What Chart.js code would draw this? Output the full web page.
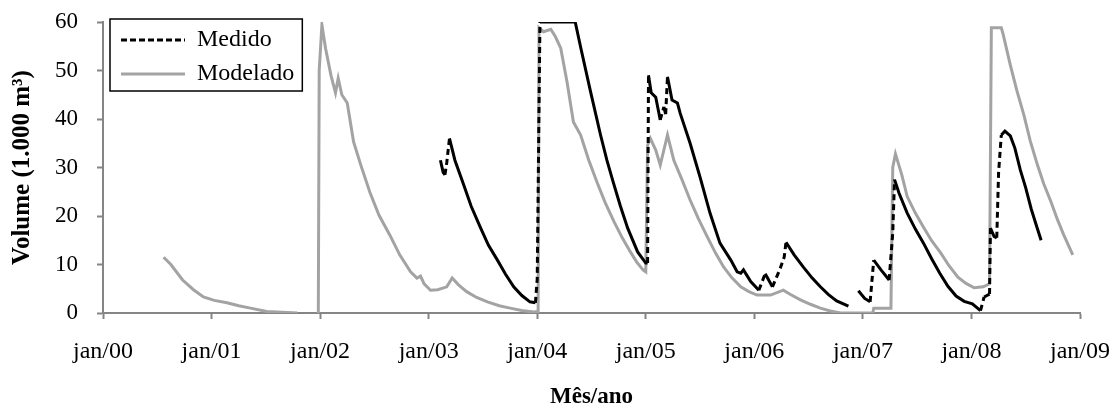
<!DOCTYPE html>
<html>
<head>
<meta charset="utf-8">
<script src="https://cdn.jsdelivr.net/npm/chart.js@4"></script>
<style>
  body { margin: 0; background: #fff; }
  #wrap { width: 1113px; height: 411px; position: relative; }
</style>
</head>
<body>
<div id="wrap"><canvas id="volChart"></canvas></div>
<script>
// x = months since jan/2000, y = volume (1.000 m3)
var xTickLabels = ['jan/00', 'jan/01', 'jan/02', 'jan/03', 'jan/04',
                   'jan/05', 'jan/06', 'jan/07', 'jan/08', 'jan/09'];
var yTicks = [0, 10, 20, 30, 40, 50, 60];

// Modelado (grey)
var modMonths = [6.7, 7.5, 8.8, 10.0, 11.1, 12.3, 13.7, 15.0, 16.3, 18.1, 21.5, 22.5,
  23.8, 23.9, 24.2, 24.6, 25.2, 25.7, 26.0, 26.4, 27.0, 27.7, 28.5, 29.5, 30.5, 31.7,
  32.8, 34.0, 34.7, 35.1, 35.5, 36.2, 37.0, 38.0, 38.6, 39.3, 40.2, 41.3, 42.5, 43.8,
  45.0, 46.3, 47.6, 48.1, 48.2, 48.7, 49.5, 50.0, 50.6, 51.3, 52.0, 52.8, 53.7, 54.6,
  55.5, 56.5, 57.4, 58.3, 59.0, 59.7, 60.0, 60.2, 60.5, 61.1, 61.6, 62.4, 63.1, 64.0,
  64.9, 65.8, 66.8, 67.7, 68.6, 69.5, 70.5, 71.4, 72.3, 73.8, 75.2, 76.0, 77.1, 78.2,
  79.3, 80.4, 81.5, 85.1, 85.2, 87.1, 87.3, 87.6, 88.3, 88.9, 89.8, 90.7, 91.6, 92.6,
  93.5, 94.5, 95.4, 96.3, 97.3, 98.0, 98.2, 99.3, 99.5, 100.3, 101.0, 101.8, 102.5,
  103.3, 104.0, 104.8, 105.5, 106.2, 107.2];
var modVolume = [11.5, 10.0, 6.8, 4.8, 3.3, 2.6, 2.1, 1.5, 1.0, 0.3, 0.0, null,
  0, 50, 59.4, 54.6, 49, 45.4, 48.4, 45, 43.3, 35.3, 30.5, 24.9, 20.2, 16.1,
  12, 8.5, 7.2, 7.6, 6, 4.7, 4.8, 5.4, 7.2, 5.8, 4.4, 3.2, 2.3, 1.5,
  1.0, 0.5, 0.2, 0.3, 58.8, 58.0, 58.5, 57, 54.6, 47.6, 39.4, 36.7, 31.5, 27,
  22.8, 18.8, 15.5, 12.6, 10.5, 8.9, 8.5, 34.6, 36, 33.6, 30.5, 36.7, 31.5, 27.5,
  23.3, 19.5, 15.7, 12.4, 9.5, 7.3, 5.4, 4.4, 3.7, 3.7, 4.7, 3.8, 2.7, 1.8,
  1.0, 0.4, 0, 0, 1.0, 1.0, 30, 32.8, 28.5, 24, 20.6, 17.7, 14.9, 12.4,
  9.8, 7.4, 6.1, 5.2, 5.4, 6, 58.8, 58.8, 57.5, 51.1, 46, 40.8, 35.5,
  30.5, 26.6, 22.9, 19.3, 16.1, 12];

// Medido (black)
var medMonths = [37.3, 37.6, 37.8, 38.0, 38.3, 38.9, 39.8, 40.7, 41.7, 42.6, 43.6, 44.5,
  45.4, 46.3, 47.2, 47.8, 48.0, 48.3, 52.2, 52.8, 53.9, 55.0, 55.7, 56.4, 57.2, 58.0,
  59.1, 60.0, 60.2, 60.3, 60.6, 61.1, 61.6, 62.0, 62.2, 62.4, 62.9, 63.5, 63.8, 64.9,
  66.0, 67.1, 68.2, 69.4, 70.1, 70.5, 70.8, 71.6, 72.5, 73.2, 74.0, 74.8, 75.3, 75.5,
  76.4, 77.4, 78.4, 79.3, 80.2, 81.1, 82.4, 83.0, 83.5, 84.2, 84.8, 85.2, 86.0, 86.9,
  87.3, 87.5, 88.0, 88.9, 89.8, 90.7, 91.6, 92.5, 93.4, 94.3, 95.2, 96.1, 97.0, 97.4,
  98.0, 98.1, 98.5, 98.8, 99.0, 99.3, 99.7, 100.3, 100.8, 101.4, 102.0, 102.6, 103.1,
  103.7];
var medVolume = [31.5, 29, 28.5, 31, 36, 31.5, 26.8, 22, 17.7, 14, 10.9, 8,
  5.4, 3.6, 2.3, 2.1, 7, 60, 60, 54.8, 45.6, 36.7, 31.5, 27, 22, 17.5,
  12.6, 10.3, 10.3, 49, 45.4, 44.5, 39.8, 42.5, 41, 48.7, 43.9, 43.3, 41.2, 35,
  28, 20.6, 14.4, 10.9, 8.5, 8.2, 8.9, 6.5, 4.7, 8.1, 5.4, 8.9, 11.5, 14.6,
  12, 9.5, 7.2, 5.4, 3.8, 2.5, 1.4, null, 4.6, 3.0, 2.3, 10.9, 8.9, 6.8,
  16.5, 27.5, 24.7, 20.6, 17.3, 14.4, 11.2, 8.2, 5.5, 3.5, 2.4, 1.9, 0.5, 3.3,
  3.9, 17.5, 15.8, 15.5, 29, 36.7, 37.5, 36.5, 34, 29.5, 25.8, 21.5, 18.5,
  15];

function toPoints(xs, ys) {
  return xs.map(function(x, i) { return { x: x, y: ys[i] }; });
}

var axisGrey = '#858585';
var modGrey  = '#a3a3a3';
var serif    = "'Liberation Serif', 'Times New Roman', serif";

// move the legend into the upper left corner and put a frame round it
var legendFrame = {
  id: 'legendFrame',
  afterUpdate: function(chart) {
    var lg = chart.legend;
    if (!lg) return;
    var dx = 8, dy = 18;
    lg.top += dy; lg.bottom += dy;
    lg.left += dx; lg.right += dx;
    (lg.legendHitBoxes || []).forEach(function(b) { b.left += dx; b.top += dy; });
  },
  afterDraw: function(chart) {
    var hb = chart.legend && chart.legend.legendHitBoxes;
    if (!hb || !hb.length) return;
    var minX = Math.min.apply(null, hb.map(function(b) { return b.left; }));
    var maxX = Math.max.apply(null, hb.map(function(b) { return b.left + b.width; }));
    var minY = hb[0].top;
    var maxY = hb[hb.length - 1].top + hb[hb.length - 1].height;
    var ctx = chart.ctx;
    ctx.save();
    ctx.strokeStyle = '#000';
    ctx.lineWidth = 1.5;
    ctx.strokeRect(minX - 11, minY - 9, (maxX - minX) + 19, (maxY - minY) + 14);
    ctx.restore();
  }
};

new Chart(document.getElementById('volChart'), {
  type: 'line',
  data: {
    datasets: [{
      label: 'Medido',
      data: toPoints(medMonths, medVolume),
      borderColor: '#000',
      borderWidth: 3,
      pointRadius: 0,
      tension: 0,
      spanGaps: false,
      // rises (filling events) are drawn dashed, as in the original
      segment: {
        borderDash: function(ctx) {
          return ctx.p1.parsed.y - ctx.p0.parsed.y > 2 ? [6, 4] : undefined;
        }
      }
    }, {
      label: 'Modelado',
      data: toPoints(modMonths, modVolume),
      borderColor: modGrey,
      borderWidth: 3,
      pointRadius: 0,
      tension: 0,
      spanGaps: false
    }]
  },
  plugins: [legendFrame],
  options: {
    responsive: true,
    maintainAspectRatio: false,
    animation: false,
    layout: {
      autoPadding: false,
      padding: { top: 22, right: 33, left: 0, bottom: 0 }
    },
    plugins: {
      tooltip: { enabled: false },
      legend: {
        position: 'chartArea',
        align: 'start',
        labels: {
          font: { family: serif, size: 24 },
          color: '#000',
          usePointStyle: true,
          pointStyleWidth: 64,
          padding: 10,
          generateLabels: function(chart) {
            return chart.data.datasets.map(function(ds, i) {
              return {
                text: ds.label,
                datasetIndex: i,
                pointStyle: 'line',
                strokeStyle: ds.borderColor,
                fillStyle: ds.borderColor,
                lineWidth: 3,
                lineDash: i === 0 ? [6, 3] : [],
                fontColor: '#000'
              };
            });
          }
        }
      }
    },
    scales: {
      x: {
        type: 'linear',
        min: 0,
        max: 108,
        afterFit: function(s) {
          s.height = 98;
          s.paddingLeft = 0; s.paddingRight = 0;
        },
        afterBuildTicks: function(s) {
          s.ticks = xTickLabels.map(function(t, i) { return { value: i * 12 }; });
        },
        ticks: {
          autoSkip: false,
          maxRotation: 0,
          padding: 18,
          color: '#000',
          font: { family: serif, size: 24 },
          callback: function(v) { return xTickLabels[Math.round(v / 12)]; }
        },
        grid: {
          drawOnChartArea: false,
          drawTicks: true,
          tickLength: 6,
          tickWidth: 2,
          color: axisGrey
        },
        border: { color: axisGrey, width: 2 },
        title: {
          display: true,
          text: 'Mês/ano',
          color: '#000',
          font: { family: serif, size: 23, weight: 'bold' },
          padding: { top: 0, bottom: 0 }
        }
      },
      y: {
        min: 0,
        max: 60,
        afterFit: function(s) {
          s.width = 103;
          s.paddingTop = 0; s.paddingBottom = 0;
        },
        afterBuildTicks: function(s) {
          s.ticks = yTicks.map(function(v) { return { value: v }; });
        },
        ticks: {
          padding: 19,
          color: '#000',
          font: { family: serif, size: 23 }
        },
        grid: {
          drawOnChartArea: false,
          drawTicks: true,
          tickLength: 6,
          tickWidth: 2,
          color: axisGrey
        },
        border: { color: axisGrey, width: 2 },
        title: {
          display: true,
          text: 'Volume (1.000 m³)',
          color: '#000',
          font: { family: serif, size: 25, weight: 'bold' },
          padding: { top: 8, bottom: 0 }
        }
      }
    }
  }
});
</script>
</body>
</html>
